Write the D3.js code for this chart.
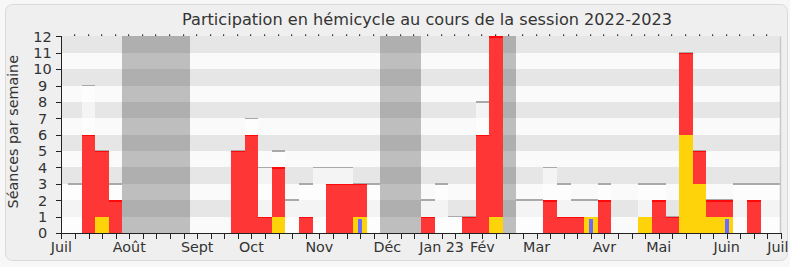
<!DOCTYPE html>
<html><head><meta charset="utf-8">
<script src="https://cdn.jsdelivr.net/npm/d3@7"></script>
<style>html,body{margin:0;padding:0;background:#f7f7f7;}svg{display:block;font-family:"DejaVu Sans",Verdana,sans-serif;}</style>
</head><body>
<svg id="c" width="790" height="267"></svg>
<script>
// ---- data ----
const title = "Participation en hémicycle au cours de la session 2022-2023";
const yTitle = "Séances par semaine";
const weekIndex = d3.range(54);
const seances      = [3,3,9,5,3, 0,0,0,0,0, 0,0,0,5,7, 4,5,2,3,4, 4,4,3,3,0, 0,0,2,3,1, 1,8,12,0,2, 2,4,3,2,2, 3,0,0,3,3, 1,11,5,2,2, 3,3,3,3];
const presences    = [0,0,6,5,2, 0,0,0,0,0, 0,0,0,5,6, 1,4,0,1,0, 3,3,3,0,0, 0,0,1,0,0, 1,6,12,0,0, 0,2,1,1,0, 2,0,0,0,2, 1,11,5,2,2, 0,2,0,0];
const interventions= [0,0,0,1,0, 0,0,0,0,0, 0,0,0,0,0, 0,1,0,0,0, 0,0,1,0,0, 0,0,0,0,0, 0,0,1,0,0, 0,0,0,0,1, 0,0,0,1,0, 0,6,3,1,1, 0,0,0,0];
const questions    = [0,0,0,0,0, 0,0,0,0,0, 0,0,0,0,0, 0,0,0,0,0, 0,0,0.85,0,0, 0,0,0,0,0, 0,0,0,0,0, 0,0,0,0,0.85, 0,0,0,0,0, 0,0,0,0,0.85, 0,0,0,0];
const vacances = [5,6,7,8,9,24,25,26,33];
const monthLabels = ["Juil","Août","Sept","Oct","Nov","Déc","Jan 23","Fév","Mar","Avr","Mai","Juin","Juil"];
const monthWeeks  = [0,5,10,14,19,24,28,31,35,40,44,49,53];
const yTicks = d3.range(0,13);

// ---- layout ----
const svg = d3.select("#c");
const L = 61.4, R = 781, T = 36.4, B = 233;
const x = d3.scaleLinear().domain([0,53]).range([L,R]);
const y = d3.scaleLinear().domain([0,12]).range([B,T]);
const step = x(1)-x(0);
const bx = i => Math.round(x(i)-step/2);
const bw = i => Math.round(x(i)+step/2) - Math.round(x(i)-step/2);

svg.append("rect").attr("x",5.5).attr("y",4.5).attr("width",782).attr("height",256).attr("rx",7)
  .attr("fill","#efefef").attr("stroke","#dadada");

svg.append("text").attr("x",427).attr("y",25).attr("text-anchor","middle")
  .attr("font-size",16.5).attr("fill","#333").attr("textLength",490).attr("lengthAdjust","spacingAndGlyphs").text(title);

const defs = svg.append("defs");
defs.append("clipPath").attr("id","pc").append("rect").attr("x",L).attr("y",T-1).attr("width",780-L).attr("height",B-T+1);
const g = svg.append("g").attr("clip-path","url(#pc)").attr("shape-rendering","crispEdges");

// bands
g.selectAll("rect.band").data(yTicks.slice(0,12)).join("rect")
  .attr("x",L).attr("width",780-L)
  .attr("y",d=>y(d+1)).attr("height",d=>y(d)-y(d+1))
  .attr("fill",d=>d%2? "#e6e6e6":"#fafafa");

// total seances columns
const wk = weekIndex.filter(i=>seances[i]>0);
g.selectAll("rect.tot").data(wk).join("rect")
  .attr("x",bx).attr("width",bw)
  .attr("y",i=>y(seances[i])).attr("height",i=>B-y(seances[i]))
  .attr("fill","#ffffff").attr("fill-opacity",0.55);
g.selectAll("rect.totl").data(wk.filter(i=>i>0)).join("rect")
  .attr("x",bx).attr("width",bw)
  .attr("y",i=>y(seances[i])-0.8).attr("height",1.6)
  .attr("fill","#a9a9a9");

// vacations
g.selectAll("rect.vac").data(vacances).join("rect")
  .attr("x",bx).attr("width",bw)
  .attr("y",T).attr("height",B-T)
  .attr("fill","#000").attr("fill-opacity",0.24);

// presences
const wp = weekIndex.filter(i=>presences[i]>0);
g.selectAll("rect.pre").data(wp).join("rect")
  .attr("x",bx).attr("width",bw)
  .attr("y",i=>y(presences[i])).attr("height",i=>B-y(presences[i]))
  .attr("fill","#ff3636");
g.selectAll("rect.prel").data(wp).join("rect")
  .attr("x",bx).attr("width",bw)
  .attr("y",i=>y(presences[i])).attr("height",1.4)
  .attr("fill","#ff0a0a");

// interventions
const wi = weekIndex.filter(i=>interventions[i]>0);
g.selectAll("rect.int").data(wi).join("rect")
  .attr("x",bx).attr("width",bw)
  .attr("y",i=>y(interventions[i])).attr("height",i=>B-y(interventions[i]))
  .attr("fill","#ffd30a");

// questions
const wq = weekIndex.filter(i=>questions[i]>0);
g.selectAll("rect.q").data(wq).join("rect")
  .attr("x",i=>Math.round(x(i))-2).attr("width",4)
  .attr("y",i=>y(questions[i])).attr("height",i=>B-y(questions[i]))
  .attr("fill","#6b6bff");

// right border shade
svg.append("line").attr("x1",780.5).attr("x2",780.5).attr("y1",T).attr("y2",B).attr("stroke","#c8c8c8").attr("stroke-width",1.5);

// axes
const ax = svg.append("g").attr("stroke","#222").attr("shape-rendering","crispEdges");
ax.append("line").attr("x1",61.5).attr("x2",61.5).attr("y1",T).attr("y2",B+0.5);
ax.append("line").attr("x1",L).attr("x2",R).attr("y1",B+0.5).attr("y2",B+0.5);
ax.selectAll("line.yt").data(yTicks).join("line")
  .attr("x1",L-5).attr("x2",L).attr("y1",d=>Math.round(y(d))+0.5).attr("y2",d=>Math.round(y(d))+0.5);
ax.selectAll("line.xt").data(weekIndex).join("line")
  .attr("x1",i=>Math.round(x(i))+0.5).attr("x2",i=>Math.round(x(i))+0.5).attr("y1",B).attr("y2",B+6);
svg.selectAll("rect.dot").data(weekIndex.slice(1,53)).join("rect")
  .attr("x",i=>Math.round(x(i))-1).attr("y",T-2).attr("width",1.2).attr("height",1.5).attr("fill","#222");

svg.selectAll("text.yl").data(yTicks).join("text")
  .attr("x",42.5).attr("y",d=>y(d)+5.3).attr("text-anchor","middle")
  .attr("font-size",14.5).attr("fill","#333").text(d=>d);
svg.selectAll("text.xl").data(monthLabels).join("text")
  .attr("x",(d,i)=>x(monthWeeks[i])).attr("y",251.5)
  .attr("text-anchor",(d,i)=> i===monthLabels.length-1 ? "end" : "middle")
  .attr("dx",(d,i)=> i===monthLabels.length-1 ? 7.5 : 0)
  .attr("font-size",14.3).attr("fill","#333").text(d=>d);

svg.append("text").attr("transform",`translate(17.5,${(T+B)/2-3}) rotate(-90)`).attr("text-anchor","middle")
  .attr("font-size",14.3).attr("fill","#333").text(yTitle);
</script>
</body></html>
